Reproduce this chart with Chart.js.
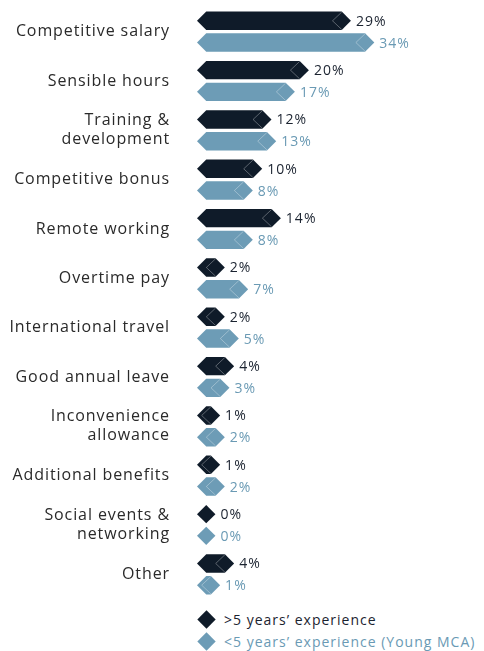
<!DOCTYPE html>
<html>
<head>
<meta charset="utf-8">
<script src="https://cdn.jsdelivr.net/npm/chart.js@4"></script>
<style>
body { margin: 0; background: #fff; font-family: "Open Sans", sans-serif; }
#wrap { position: relative; width: 484px; height: 600px; }
.leg { position: absolute; left: 197px; font-size: 14px; letter-spacing: 1px; white-space: nowrap; line-height: 20px; }
.leg i { display: inline-block; width: 13px; height: 13px; transform: rotate(45deg); margin: 0 11px 0 3px; vertical-align: -1px; }
</style>
</head>
<body>
<div id="wrap"><canvas id="myChart" width="484" height="600"></canvas></div>
<div class="leg" style="top:610px;color:#1b2330"><i style="background:#0f1b29"></i>&gt;5 years’ experience</div>
<div class="leg" style="top:632px;color:#6a9ab4"><i style="background:#6d9cb6"></i>&lt;5 years’ experience (Young MCA)</div>
<script>
const categories = [
    'Competitive salary',
    'Sensible hours',
    ['Training &', 'development'],
    'Competitive bonus',
    'Remote working',
    'Overtime pay',
    'International travel',
    'Good annual leave',
    ['Inconvenience', 'allowance'],
    'Additional benefits',
    ['Social events &', 'networking'],
    'Other'
];
const seniorValues = [29, 20, 12, 10, 14, 2, 2, 4, 1, 1, 0, 4];
const youngValues = [34, 17, 13, 8, 8, 7, 5, 3, 2, 2, 0, 1];
const seriesNames = ['>5 years’ experience', '<5 years’ experience (Young MCA)'];

const barColors = ['#0f1b29', '#6d9cb6'];
const textColors = ['#1b2330', '#6a9ab4'];

// wider letters, closer to the original typeface
const spacing = {
    id: 'spacing',
    beforeDraw(chart) { chart.ctx.letterSpacing = '0.9px'; }
};

// draws the pointed bars + value labels from the bar elements
const arrowBars = {
    id: 'arrowBars',
    afterDatasetsDraw(chart) {
        const ctx = chart.ctx;
        chart.data.datasets.forEach((ds, i) => {
            const meta = chart.getDatasetMeta(i);
            meta.data.forEach((bar, j) => {
                const p = bar.getProps(['x', 'y', 'base', 'height'], true);
                const h = p.height, half = h / 2;
                const top = p.y - half, bot = p.y + half;
                ctx.save();
                ctx.beginPath();
                ctx.moveTo(p.base, p.y);
                ctx.lineTo(p.base + half, top);
                ctx.lineTo(p.x + half, top);
                ctx.lineTo(p.x + h, p.y);
                ctx.lineTo(p.x + half, bot);
                ctx.lineTo(p.base + half, bot);
                ctx.closePath();
                ctx.fillStyle = barColors[i];
                ctx.fill();
                if (ds.data[j] > 0) {
                    ctx.beginPath();
                    ctx.moveTo(p.x + half, top + 0.5);
                    ctx.lineTo(p.x, p.y);
                    ctx.lineTo(p.x + half, bot - 0.5);
                    ctx.strokeStyle = 'rgba(255,255,255,0.4)';
                    ctx.lineWidth = 0.8;
                    ctx.stroke();
                }
                ctx.fillStyle = textColors[i];
                ctx.font = '14px "Open Sans"';
                ctx.letterSpacing = '1px';
                ctx.textBaseline = 'middle';
                ctx.fillText(ds.data[j] + '%', p.x + h + 5, p.y + 1);
                ctx.restore();
            });
        });
    }
};

const config = {
    type: 'bar',
    data: {
        labels: categories,
        datasets: [
            { label: seriesNames[0], data: seniorValues, backgroundColor: 'transparent' },
            { label: seriesNames[1], data: youngValues, backgroundColor: 'transparent' }
        ]
    },
    options: {
        indexAxis: 'y',
        responsive: false,
        animation: false,
        categoryPercentage: 0.88,
        barPercentage: 0.85,
        layout: { padding: { top: 7, bottom: 1, right: 30 } },
        plugins: { legend: { display: false }, tooltip: { enabled: false } },
        scales: {
            x: { display: false, min: 0, max: 55 },
            y: {
                grid: { display: false },
                border: { display: false },
                ticks: {
                    color: '#2a2a2a',
                    padding: 19,
                    font: { family: 'Open Sans', size: 16, lineHeight: 1.2 }
                },
                afterFit(scale) {
                    scale.width = 197;
                    scale.paddingTop = 0;
                    scale.paddingBottom = 0;
                }
            }
        }
    },
    plugins: [spacing, arrowBars]
};

const myChart = new Chart(document.getElementById('myChart'), config);
</script>
</body>
</html>
